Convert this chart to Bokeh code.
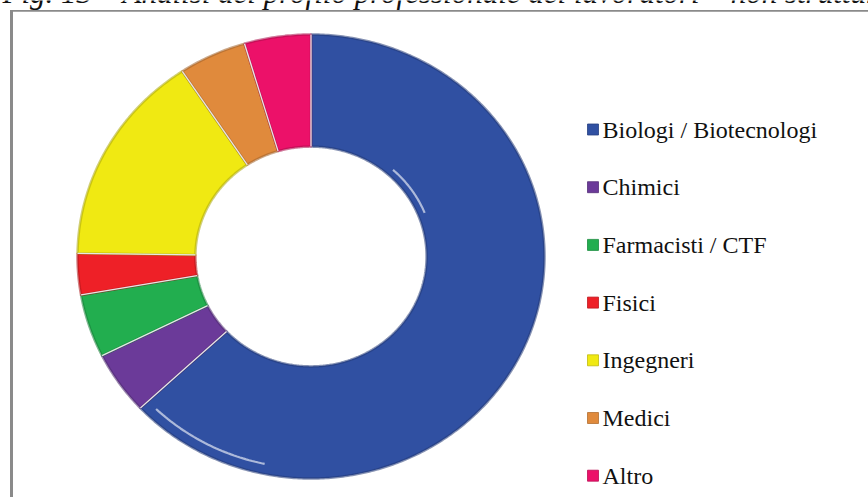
import numpy as np
from bokeh.plotting import figure
from bokeh.models import Range1d, BoxAnnotation, ColumnDataSource
from bokeh.core.properties import value
from bokeh.embed import file_html
from bokeh.resources import INLINE

# ---- data ----
categories = ["Biologi / Biotecnologi", "Chimici", "Farmacisti / CTF", "Fisici",
              "Ingegneri", "Medici", "Altro"]
shares = [63.1, 4.6, 4.6, 3.0, 15.5, 4.7, 4.6]
colors = ["#3050A2", "#6B3A99", "#22AE4F", "#EE2027", "#F0E912", "#E08A3C", "#EC1169"]
title_text = "Fig. 13 – Analisi del profilo professionale dei lavoratori – non strutturati"

W, H = 868, 497
p = figure(width=W, height=H, output_backend="svg", toolbar_location=None,
           x_range=Range1d(0, W), y_range=Range1d(H, 0), min_border=0)
p.axis.visible = False
p.grid.visible = False
p.outline_line_color = None
p.background_fill_color = "white"
p.border_fill_color = "white"


def shade(hx, f):
    hx = hx.lstrip("#")
    r, g, b = (int(hx[i:i + 2], 16) for i in (0, 2, 4))
    return "#%02x%02x%02x" % (int(r * f), int(g * f), int(b * f))


# donut geometry (layout)
cx, cy, rx, ry, inner = 310.5, 256.0, 233.5, 222.0, 0.495

frac = np.array(shares, dtype=float) / sum(shares)
ends = np.cumsum(frac)
starts = ends - frac
xs, ys = [], []
for s, e in zip(starts, ends):
    n = max(10, int(600 * (e - s)))
    t = np.linspace(np.pi / 2 - 2 * np.pi * s, np.pi / 2 - 2 * np.pi * e, n)
    ox = cx + rx * np.cos(t)
    oy = cy - ry * np.sin(t)
    ix = cx + inner * rx * np.cos(t[::-1])
    iy = cy - inner * ry * np.sin(t[::-1])
    xs.append(list(np.concatenate([ox, ix])))
    ys.append(list(np.concatenate([oy, iy])))

src = ColumnDataSource(dict(xs=xs, ys=ys, color=colors,
                            dark=[shade(c, 0.72) for c in colors], cat=categories))
p.patches("xs", "ys", source=src, fill_color="color", line_color="dark",
          line_width=2.5, line_alpha=0.55)

# glossy highlights on the large slice (decorative bevel)
for a0, a1, rr in [(np.radians(22), np.radians(48), inner + 0.03),
                   (np.radians(226), np.radians(258), 0.955)]:
    tt = np.linspace(a0, a1, 40)
    p.line(cx + rr * rx * np.cos(tt), cy - rr * ry * np.sin(tt),
           line_color="white", line_width=2.2, line_alpha=0.6)

# thin light separators between slices
ang = np.pi / 2 - 2 * np.pi * starts
p.segment(x0=cx + inner * rx * np.cos(ang), y0=cy - inner * ry * np.sin(ang),
          x1=cx + rx * np.cos(ang), y1=cy - ry * np.sin(ang),
          line_color="#e6e6e6", line_width=1.3)

# legend drawn from the same arrays
ly = [129 + i * 57.7 for i in range(len(categories))]
p.rect(x=[592.5] * len(categories), y=ly, width=11, height=11,
       fill_color=colors, line_color=[shade(c, 0.8) for c in colors], line_width=0.8)
p.text(x=[602] * len(categories), y=ly, text=categories,
       text_font=value("Liberation Serif"), text_font_size="24px",
       text_color="#111111", text_baseline="middle", text_align="left")

# clipped title at the very top
p.text(x=[2], y=[-8], text=[title_text], text_font=value("Liberation Serif"),
       text_font_style="italic", text_font_size="31px", text_color="#111111",
       text_baseline="alphabetic", text_align="left")

# frame of the figure box
p.add_layout(BoxAnnotation(left=9.5, right=12.5, top=10, bottom=H + 10,
                           fill_color="#8a8a8a", fill_alpha=1, line_color=None))
p.add_layout(BoxAnnotation(left=9.5, right=W + 10, top=9.5, bottom=11.2,
                           fill_color="#8a8a8a", fill_alpha=1, line_color=None))

open("out.html", "w").write(file_html(p, INLINE))
